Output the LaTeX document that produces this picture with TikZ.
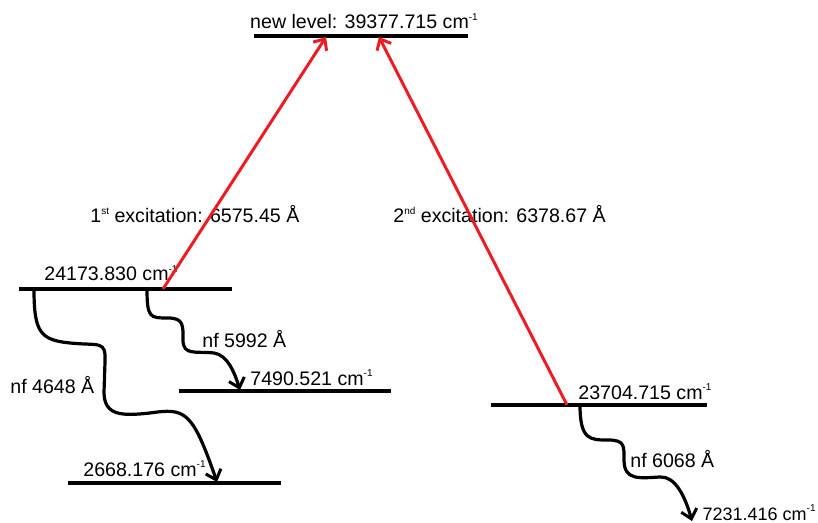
\documentclass[tikz,border=0pt]{standalone}
\usepackage{fontspec}
\setmainfont{Liberation Sans}
\usetikzlibrary{arrows.meta}
\definecolor{exred}{RGB}{237,28,36}
\tikzset{
  level/.style={line width=1.6pt, black},
  lbl/.style={font=\fontsize{9.8}{11}\selectfont, inner sep=0pt},
  excite/.style={line width=1.5pt, exred, -{Straight Barb[length=4.5pt,width=8pt,line width=1.5pt]}},
  decay/.style={line width=1.6pt, black, -{Straight Barb[length=4.5pt,width=8pt,line width=1.5pt]}}
}
\newcommand{\supsm}[1]{\raisebox{4.2pt}{\fontsize{5}{6}\selectfont #1}}
\newcommand{\inv}{\supsm{-1}}
\begin{document}
\begin{tikzpicture}[x=0.5pt,y=-0.5pt]
\useasboundingbox (0,0) rectangle (818,523);
% levels
\draw[level] (254,36) coordinate (top0) -- (468,36) coordinate (top1);
\draw[level] (19,289) coordinate (a0) -- (232,289) coordinate (a1);
\draw[level] (179,391) coordinate (b0) -- (391,391) coordinate (b1);
\draw[level] (68,483) coordinate (c0) -- (281,483) coordinate (c1);
\draw[level] (491,405) coordinate (d0) -- (707,405) coordinate (d1);
% level labels
\node[lbl, anchor=base] (ltop) at (364,29) {new level: 39377.715 cm\inv};
\node[lbl, anchor=base west] (la) at (44,281) {24173.830 cm\inv};
\node[lbl, anchor=base west] (lb) at (250,385) {7490.521 cm\inv};
\node[lbl, anchor=base west] (lc) at (83,476) {2668.176 cm\inv};
\node[lbl, anchor=base west] (ld) at (578,399) {23704.715 cm\inv};
\node[lbl, anchor=base east, font=\fontsize{9}{10}\selectfont] (le) at (816,520) {7231.416 cm\inv};
% excitation labels
\node[lbl, anchor=base west] (ex1) at (90,223) {1\supsm{st} excitation: 6575.45 Å};
\node[lbl, anchor=base west] (ex2) at (393,223) {2\supsm{nd} excitation: 6378.67 Å};
% decay labels
\node[lbl, anchor=base west] (nf1) at (202,347) {nf 5992 Å};
\node[lbl, anchor=base west] (nf2) at (10,393) {nf 4648 Å};
\node[lbl, anchor=base west] (nf3) at (630,467) {nf 6068 Å};
% excitation arrows
\coordinate (ra) at (163,289);
\coordinate (rt1) at (326,37);
\coordinate (rd) at (567,405);
\coordinate (rt2) at (379,37);
\draw[excite] (ra) -- (rt1);
\draw[excite] (rd) -- (rt2);
% decay arrows
\coordinate (s1) at (147,289);
\coordinate (e1) at (240,390);
\draw[decay] (s1) .. controls (147,318) and (150,318) .. (168,318)
  .. controls (184,318) and (183,326) .. (183,340)
  .. controls (183,356) and (196,351) .. (214,353)
  .. controls (228,355) and (235,374) .. (e1);
\coordinate (s2) at (34,289);
\coordinate (e2) at (217,482);
\draw[decay] (s2) .. controls (34,332) and (40,340) .. (70,343)
  .. controls (100,346) and (106,340) .. (105,362)
  -- (104,392) .. controls (104,416) and (122,416) .. (150,413)
  .. controls (185,408) and (192,410) .. (e2);
\coordinate (s3) at (580,405);
\coordinate (e3) at (692,521);
\draw[decay] (s3) .. controls (580,440) and (590,440) .. (608,440)
  .. controls (625,440) and (624,446) .. (624,460)
  .. controls (624,481) and (640,478) .. (660,477)
  .. controls (675,476) and (685,496) .. (e3);
\end{tikzpicture}
\end{document}
